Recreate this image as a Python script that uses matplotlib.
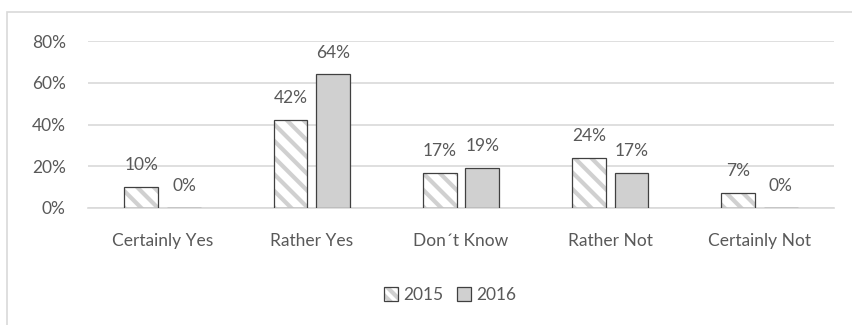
import matplotlib.pyplot as plt
import numpy as np
from matplotlib.patches import Rectangle, Patch
from matplotlib.legend_handler import HandlerTuple

# data
categories = ['Certainly Yes', 'Rather Yes', 'Don\u00b4t Know', 'Rather Not', 'Certainly Not']
values_2015 = [10, 42, 17, 24, 7]
values_2016 = [0, 64, 19, 17, 0]
series_names = ['2015', '2016']

TEXT = '#595959'
GRID = '#D9D9D9'
EDGE = '#404040'
FILL_2016 = '#D0D0D0'
HATCH_2015 = '#D0D0D0'

plt.rcParams['font.family'] = ['Lato', 'DejaVu Sans']
plt.rcParams['hatch.linewidth'] = 3.0
FS = 12.5

fig = plt.figure(figsize=(8.53, 3.25), dpi=100)
ax = fig.add_axes([88 / 853, 1 - 208 / 325, 746 / 853, 167 / 325])

x = np.arange(len(categories))
w = 34 / 150          # bar width (category = 150 px)
off = 21.5 / 150      # half bar + half gap

# 2015: hatch in light gray, then dark outline on top
ax.bar(x - off, values_2015, w, color='white', edgecolor=HATCH_2015,
       hatch='\\\\', linewidth=0, zorder=2)
ax.bar(x - off, values_2015, w, fill=False, edgecolor=EDGE, linewidth=0.9, zorder=3)
ax.bar(x + off, values_2016, w, color=FILL_2016, edgecolor=EDGE, linewidth=0.9, zorder=3)

for xi, v in zip(x - off, values_2015):
    ax.annotate(f'{v}%', (xi, v), xytext=(0, 10), textcoords='offset points',
                ha='center', va='bottom', fontsize=FS, color=TEXT)
for xi, v in zip(x + off, values_2016):
    ax.annotate(f'{v}%', (xi, v), xytext=(0, 10), textcoords='offset points',
                ha='center', va='bottom', fontsize=FS, color=TEXT)

ax.set_xlim(-0.5, len(categories) - 0.5)
ax.set_ylim(0, 80)
ax.set_yticks([0, 20, 40, 60, 80])
ax.set_yticklabels([f'{t}%' for t in [0, 20, 40, 60, 80]])
ax.set_xticks(x)
ax.set_xticklabels(categories)
ax.tick_params(axis='both', length=0, labelsize=FS, labelcolor=TEXT)
ax.tick_params(axis='y', pad=16)
ax.tick_params(axis='x', pad=18)
ax.grid(axis='y', color=GRID, linewidth=1.2, zorder=0)
ax.set_axisbelow(True)
for s in ['top', 'right', 'left']:
    ax.spines[s].set_visible(False)
ax.spines['bottom'].set_color(GRID)
ax.spines['bottom'].set_linewidth(1.2)

h2015 = (Patch(facecolor='white', edgecolor=HATCH_2015, hatch='\\\\\\', linewidth=0),
         Patch(fill=False, edgecolor=EDGE, linewidth=0.9))
h2016 = Patch(facecolor=FILL_2016, edgecolor=EDGE, linewidth=0.9)
fig.legend([h2015, h2016], series_names, loc='center', bbox_to_anchor=(450 / 853, 1 - 295 / 325),
           ncol=2, frameon=False, fontsize=FS, labelcolor=TEXT,
           handler_map={tuple: HandlerTuple(ndivide=1)},
           handlelength=0.8, handleheight=0.8, handletextpad=0.3, columnspacing=0.8)

# chart area border (extends past the right and bottom edges)
fig.patches.append(Rectangle((7 / 853, -0.1), 1.0, 1 - 12 / 325 + 0.1,
                             transform=fig.transFigure, fill=False,
                             edgecolor=GRID, linewidth=1.2))

fig.savefig('out.png', dpi=100)
